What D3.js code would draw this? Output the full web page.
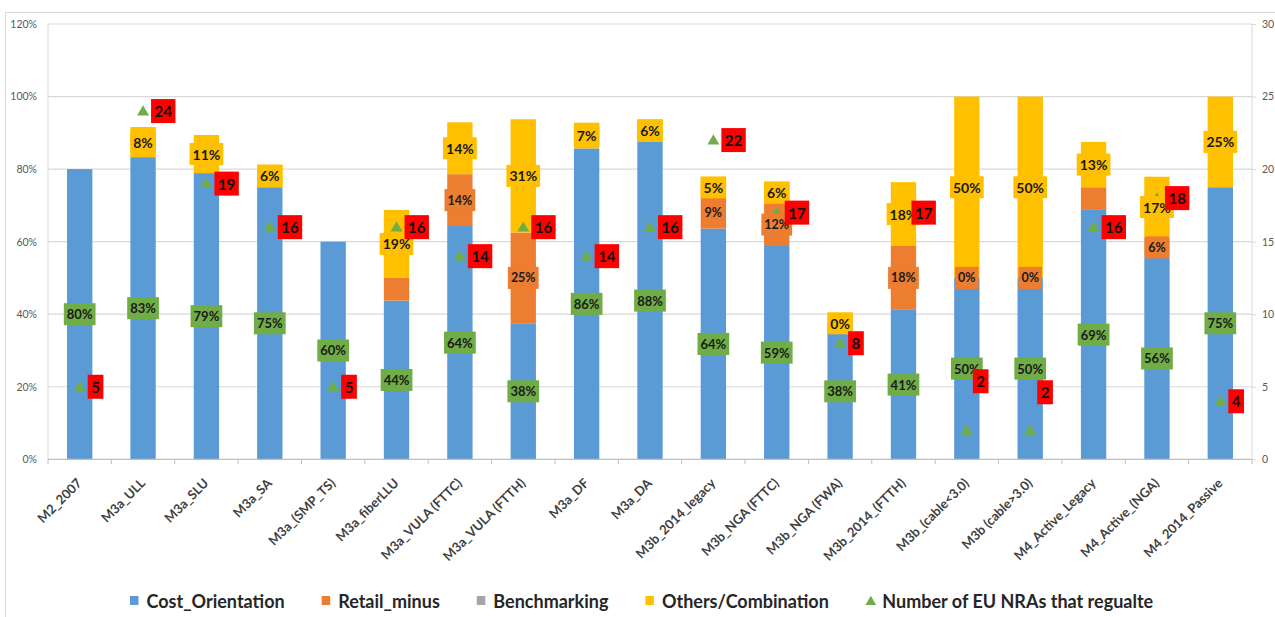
<!DOCTYPE html>
<html>
<head>
<meta charset="utf-8">
<script src="https://cdn.jsdelivr.net/npm/d3@7"></script>
<style>
  body { margin: 0; background: #fff; }
  svg { display: block; }
  text { font-family: Lato, "Open Sans", sans-serif; }
</style>
</head>
<body>
<svg id="chart" width="1275" height="617"></svg>
<script>
// ---- data -------------------------------------------------------------
const categories = [
  "M2_2007", "M3a_ULL", "M3a_SLU", "M3a_SA", "M3a_(SMP_TS)", "M3a_fiberLLU",
  "M3a_VULA (FTTC)", "M3a_VULA (FTTH)", "M3a_DF", "M3a_DA", "M3b_2014_legacy",
  "M3b_NGA (FTTC)", "M3b_NGA (FWA)", "M3b_2014_(FTTH)", "M3b_(cable<3.0)",
  "M3b (cable>3.0)", "M4_Active_Legacy", "M4_Active_(NGA)", "M4_2014_Passive"
];
// shares of regulating NRAs, in percent
const costOrientation   = [80, 83.3, 78.9, 75, 60, 43.75, 64.3, 37.5, 85.7, 87.5, 63.6, 58.8, 37.5, 41.2, 50, 50, 68.75, 55.6, 75];
const retailMinus       = [0, 0, 0, 0, 0, 6.25, 14.3, 25, 0, 0, 9.1, 11.8, 0, 17.6, 0, 0, 6.25, 5.6, 0];
const benchmarking      = [0, 0, 0, 0, 0, 0, 0, 0, 0, 0, 0, 0, 0, 0, 0, 0, 0, 0, 0];
const othersCombination = [0, 8.3, 10.5, 6.25, 0, 18.75, 14.3, 31.25, 7.1, 6.25, 4.5, 5.9, 0, 17.6, 50, 50, 12.5, 16.7, 25];
// number of EU NRAs that regulate (right axis)
const nraCount = [5, 24, 19, 16, 5, 16, 14, 16, 14, 16, 22, 17, 8, 17, 2, 2, 16, 18, 4];

// which segment labels are printed
const retailLabelShown = [6, 7, 10, 11, 13, 14, 15, 17];
const othersLabelShown = [1, 2, 3, 5, 6, 7, 8, 9, 10, 11, 12, 13, 14, 15, 16, 17, 18];

const leftTicks  = [0, 20, 40, 60, 80, 100, 120];
const rightTicks = [0, 5, 10, 15, 20, 25, 30];

const seriesNames = ["Cost_Orientation", "Retail_minus", "Benchmarking", "Others/Combination"];
const legendNra = "Number of EU NRAs that regualte";

// ---- styles -----------------------------------------------------------
const colors = {
  cost: "#5B9BD5", retail: "#ED7D31", bench: "#A5A5A5", others: "#FFC000",
  tri: "#70AD47", labelGreen: "#70AD47", red: "#FF0000"
};

const svg = d3.select("#chart");
const W = 1275, H = 617;
const plot = { left: 48, right: 1252, top: 24, bottom: 459.3 };

// chart frame
svg.append("rect")
  .attr("x", 5.5).attr("y", 12.5).attr("width", W + 20).attr("height", H + 20)
  .attr("fill", "none").attr("stroke", "#D9D9D9").attr("stroke-width", 1);

const x = d3.scaleBand().domain(categories)
  .range([plot.left, plot.right]).paddingInner(0.6).paddingOuter(0.3);
const step = x.step();
const yL = d3.scaleLinear().domain([0, 120]).range([plot.bottom, plot.top]);
const yR = d3.scaleLinear().domain([0, 30]).range([plot.bottom, plot.top]);

// gridlines
svg.append("g").selectAll("line").data(leftTicks.filter(d => d > 0)).join("line")
  .attr("x1", plot.left).attr("x2", plot.right)
  .attr("y1", d => yL(d)).attr("y2", d => yL(d))
  .attr("stroke", "#D9D9D9").attr("stroke-width", 1.2);

// vertical axis lines
svg.append("line").attr("x1", plot.left).attr("x2", plot.left)
  .attr("y1", plot.top).attr("y2", plot.bottom).attr("stroke", "#D9D9D9");
svg.append("line").attr("x1", plot.right).attr("x2", plot.right)
  .attr("y1", plot.top).attr("y2", plot.bottom).attr("stroke", "#D9D9D9");

// left axis
const axL = svg.append("g").attr("transform", `translate(${plot.left},0)`)
  .call(d3.axisLeft(yL).tickValues(leftTicks).tickFormat(d => d + "%").tickSize(0).tickPadding(11));
axL.select(".domain").remove();
axL.selectAll("text").attr("font-size", 10.5).attr("fill", "#595959").style("font-family", "Lato, sans-serif");

// right axis
const axR = svg.append("g").attr("transform", `translate(${plot.right},0)`)
  .call(d3.axisRight(yR).tickValues(rightTicks).tickSize(4).tickPadding(6));
axR.select(".domain").remove();
axR.selectAll("line").attr("stroke", "#D9D9D9");
axR.selectAll("text").attr("font-size", 10.5).attr("fill", "#595959").style("font-family", "Lato, sans-serif");

// stacked series
const rows = categories.map((c, i) => ({
  cat: c, cost: costOrientation[i], retail: retailMinus[i],
  bench: benchmarking[i], others: othersCombination[i], idx: i
}));
const keys = ["cost", "retail", "bench", "others"];
const stacked = d3.stack().keys(keys)(rows);

const barsG = svg.append("g");
stacked.forEach(layer => {
  barsG.append("g").selectAll("rect").data(layer).join("rect")
    .attr("x", d => x(d.data.cat))
    .attr("width", x.bandwidth())
    .attr("y", d => yL(d[1]))
    .attr("height", d => Math.max(0, yL(d[0]) - yL(d[1])))
    .attr("fill", colors[layer.key]);
});

// bottom axis with boundary ticks
svg.append("line").attr("x1", plot.left).attr("x2", plot.right)
  .attr("y1", plot.bottom).attr("y2", plot.bottom).attr("stroke", "#BFBFBF").attr("stroke-width", 1.2);
svg.append("g").selectAll("line").data(d3.range(categories.length + 1)).join("line")
  .attr("x1", i => plot.left + i * step).attr("x2", i => plot.left + i * step)
  .attr("y1", plot.bottom).attr("y2", plot.bottom + 5)
  .attr("stroke", "#BFBFBF");

// category labels, slanted at 45 degrees
const cx = i => x(categories[i]) + x.bandwidth() / 2;
const catG = svg.append("g");
categories.forEach((c, i) => {
  const px = cx(i) + 3, py = 484;
  catG.append("text")
    .attr("x", px).attr("y", py)
    .attr("transform", `rotate(-45 ${px} ${py})`)
    .attr("text-anchor", "end")
    .attr("font-size", 13).attr("font-weight", "bold").attr("fill", "#404040")
    .text(c);
});

// NRA count triangles
svg.append("g").selectAll("path").data(nraCount).join("path")
  .attr("d", d3.symbol(d3.symbolTriangle, 62))
  .attr("transform", (d, i) => `translate(${cx(i)},${yR(d) + 1})`)
  .attr("fill", colors.tri);

// segment labels with filled boxes
function boxLabel(g, xc, yc, txt, fill, size) {
  const t = g.append("text").attr("x", xc).attr("y", yc)
    .attr("text-anchor", "middle").attr("dominant-baseline", "central")
    .attr("font-size", size).attr("font-weight", "bold").attr("fill", "#1a1a1a").text(txt);
  const w = t.node().getComputedTextLength() + 6;
  g.insert("rect", () => t.node())
    .attr("x", xc - w / 2).attr("y", yc - 11).attr("width", w).attr("height", 22)
    .attr("fill", fill);
}
const fmt = v => Math.round(v) + "%";
const labelsG = svg.append("g");
rows.forEach((r, i) => {
  const c = cx(i);
  boxLabel(labelsG, c, yL(r.cost / 2), fmt(r.cost), colors.labelGreen, 13);
  if (retailLabelShown.includes(i)) {
    const base = r.cost;
    boxLabel(labelsG, c, yL(base + r.retail / 2), fmt(r.retail), colors.retail, 12.5);
  }
  if (othersLabelShown.includes(i)) {
    const base = r.cost + r.retail + r.bench;
    boxLabel(labelsG, c, yL(base + r.others / 2), fmt(r.others), colors.others, 14);
  }
});

// NRA count labels (red boxes); two are nudged upward to stay clear
const nraNudge = { 14: { dx: -2, dy: -49 }, 15: { dx: -1, dy: -38 } };
const redG = svg.append("g");
nraCount.forEach((n, i) => {
  const nudge = nraNudge[i] || { dx: 0, dy: 0 };
  const yc = yR(n) + nudge.dy;
  const t = redG.append("text")
    .attr("y", yc).attr("dominant-baseline", "central")
    .attr("font-size", 15).attr("font-weight", "bold").attr("fill", "#111").text(n);
  const tw = t.node().getComputedTextLength();
  const left = cx(i) + 8 + nudge.dx;
  t.attr("x", left + 3.5);
  redG.insert("rect", () => t.node())
    .attr("x", left).attr("y", yc - 12).attr("width", tw + 7).attr("height", 24)
    .attr("fill", colors.red);
});

// legend
const legend = svg.append("g");
const legendItems = [
  { name: seriesNames[0], color: colors.cost, shape: "square" },
  { name: seriesNames[1], color: colors.retail, shape: "square" },
  { name: seriesNames[2], color: colors.bench, shape: "square" },
  { name: seriesNames[3], color: colors.others, shape: "square" },
  { name: legendNra, color: colors.tri, shape: "triangle" }
];
let lx = 130;
const ly = 601;
legendItems.forEach(item => {
  if (item.shape === "square") {
    legend.append("rect").attr("x", lx).attr("y", ly - 5).attr("width", 8.5).attr("height", 9)
      .attr("fill", item.color);
  } else {
    legend.append("path").attr("d", d3.symbol(d3.symbolTriangle, 50))
      .attr("transform", `translate(${lx + 5},${ly + 1})`).attr("fill", item.color);
  }
  const t = legend.append("text").attr("x", lx + 16.5).attr("y", ly)
    .attr("dominant-baseline", "central")
    .attr("font-size", 18).attr("font-weight", "bold").attr("fill", "#262626").text(item.name);
  lx += 16.5 + t.node().getComputedTextLength() + 37;
});
</script>
</body>
</html>
